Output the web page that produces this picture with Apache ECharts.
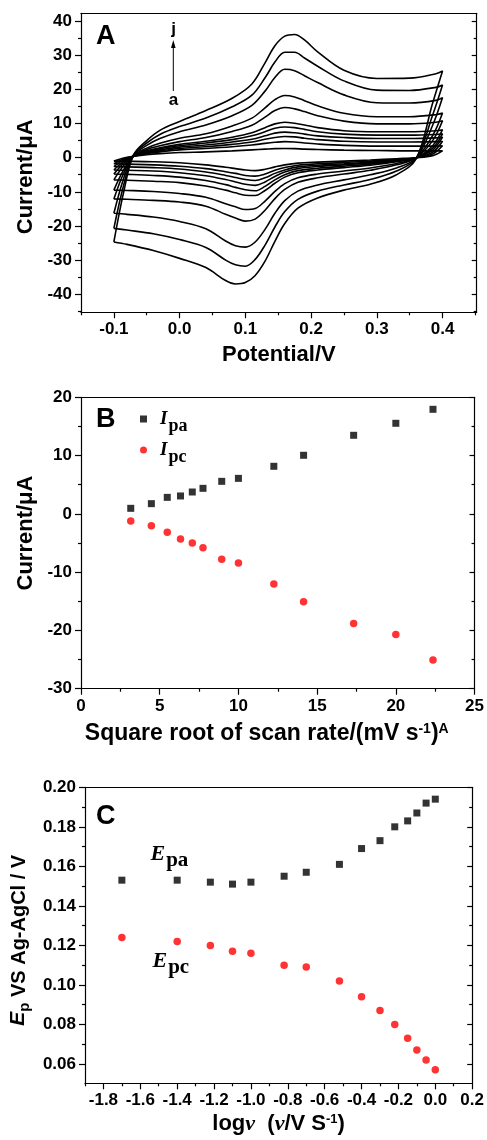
<!DOCTYPE html>
<html>
<head>
<meta charset="utf-8">
<script src="https://cdn.jsdelivr.net/npm/echarts@6/dist/echarts.min.js"></script>
<style>
  html, body { margin: 0; padding: 0; background: #fff; }
  #chart { width: 487px; height: 1140px; }
</style>
</head>
<body>
<div id="chart"></div>
<script>
// ---- panel A: cyclic voltammograms (a..j, 30 -> 500 mV/s) ----
const scanRates = [30, 40, 50, 60, 80, 100, 150, 200, 300, 400, 500];
// anodic sweep potentials and cathodic (return) sweep potentials, V
const fwdE = [-0.1, -0.085, -0.07, -0.05, -0.03, 0, 0.04, 0.08, 0.11, 0.13, 0.145, 0.16, 0.175, 0.19, 0.21, 0.25, 0.3, 0.35, 0.39, 0.4];
const revE = [0.385, 0.36, 0.33, 0.29, 0.25, 0.21, 0.18, 0.16, 0.145, 0.13, 0.115, 0.1, 0.085, 0.07, 0.04, 0, -0.04, -0.08, -0.1];

const fwd30 = [-1.0, -0.1, 0.4, 0.9, 1.2, 1.5, 1.7, 2.0, 2.3, 2.5, 2.65, 2.7, 2.65, 2.5, 2.4, 2.2, 2.1, 2.0, 2.0, 2.0];
const rev30 = [0.6, 0.0, -0.3, -0.7, -1.0, -1.3, -1.6, -2.1, -2.7, -3.4, -3.8, -3.6, -3.2, -2.8, -2.1, -1.5, -1.2, -1.05, -1.0];
const fwd40 = [-1.8, -0.4, 0.4, 1.2, 1.7, 2.3, 2.7, 3.2, 3.7, 4.2, 4.5, 4.7, 4.6, 4.3, 4.0, 3.6, 3.4, 3.4, 3.4, 3.5];
const rev40 = [1.1, 0.0, -0.5, -1.0, -1.4, -1.8, -2.2, -2.9, -3.7, -4.8, -5.4, -5.2, -4.6, -4.1, -3.2, -2.5, -2.1, -1.9, -1.8];
const fwd50 = [-2.6, -0.7, 0.4, 1.4, 2.0, 2.7, 3.2, 3.9, 4.6, 5.4, 5.9, 6.2, 6.1, 5.7, 5.3, 4.8, 4.6, 4.6, 4.7, 4.8];
const rev50 = [1.6, 0.0, -0.7, -1.3, -1.8, -2.2, -2.7, -3.6, -4.6, -5.9, -6.7, -6.4, -5.8, -5.2, -4.2, -3.3, -2.9, -2.7, -2.6];
const fwd60 = [-3.6, -1.1, 0.4, 1.6, 2.3, 3.1, 3.7, 4.6, 5.4, 6.4, 7.2, 7.5, 7.3, 6.9, 6.4, 5.9, 5.6, 5.6, 5.8, 6.0];
const rev60 = [2.2, 0.0, -0.8, -1.6, -2.1, -2.6, -3.2, -4.2, -5.5, -7.1, -8.1, -7.8, -7.1, -6.4, -5.3, -4.4, -3.9, -3.7, -3.6];
const fwd80 = [-4.8, -1.6, 0.5, 1.8, 2.6, 3.5, 4.3, 5.3, 6.4, 7.6, 8.6, 9.0, 8.8, 8.3, 7.6, 6.9, 6.6, 6.6, 6.8, 7.0];
const rev80 = [2.8, 0.0, -1.0, -1.9, -2.5, -3.1, -3.8, -5.0, -6.5, -8.4, -9.7, -9.4, -8.7, -7.9, -6.7, -5.7, -5.2, -4.9, -4.8];
const fwd100 = [-6.5, -2.3, 0.5, 2.0, 2.9, 3.9, 4.8, 6.0, 7.3, 8.8, 9.9, 10.4, 10.1, 9.6, 8.8, 7.9, 7.6, 7.6, 7.9, 8.2];
const rev100 = [3.5, 0.0, -1.2, -2.2, -2.9, -3.6, -4.4, -5.7, -7.5, -9.6, -11.1, -11.0, -10.3, -9.5, -8.3, -7.3, -6.9, -6.6, -6.5];
const fwd150 = [-9.5, -3.5, 0.5, 2.4, 3.5, 4.7, 5.9, 7.7, 9.5, 11.9, 13.8, 14.7, 14.3, 13.5, 12.3, 10.7, 9.9, 9.9, 10.4, 10.8];
const rev150 = [5.0, 0.0, -1.7, -3.0, -3.9, -4.8, -5.9, -7.6, -9.9, -12.7, -14.9, -15.2, -14.4, -13.5, -11.6, -10.5, -9.9, -9.6, -9.5];
const fwd200 = [-12.1, -4.5, 0.6, 2.8, 4.2, 5.7, 7.0, 9.3, 11.6, 14.6, 17.0, 18.2, 17.8, 16.7, 15.2, 13.0, 12.0, 12.0, 12.6, 13.1];
const rev200 = [6.5, 0.0, -2.1, -3.7, -4.8, -5.9, -7.2, -9.3, -12.0, -15.4, -18.0, -18.6, -17.7, -16.6, -14.2, -13.0, -12.5, -12.2, -12.1];
const fwd300 = [-16.3, -6.0, 0.7, 3.6, 5.6, 7.6, 9.6, 12.3, 15.3, 19.5, 23.5, 25.9, 25.5, 24.0, 22.0, 18.4, 16.1, 16.0, 16.8, 17.6];
const rev300 = [9.5, -0.1, -3.0, -5.0, -6.5, -8.0, -9.8, -12.6, -16.3, -21.0, -24.7, -26.2, -25.8, -24.4, -20.8, -18.7, -17.4, -16.6, -16.3];
const fwd400 = [-20.7, -8.0, 0.8, 4.3, 6.8, 9.1, 11.6, 14.9, 18.3, 23.4, 28.0, 30.9, 30.9, 29.2, 26.8, 22.5, 19.8, 19.7, 20.6, 21.3];
const rev400 = [12.5, -0.2, -3.9, -6.4, -8.0, -9.8, -12.2, -15.8, -20.3, -25.6, -29.8, -31.8, -31.4, -30.0, -26.3, -24.0, -22.3, -21.2, -20.7];
const fwd500 = [-24.7, -10.0, 0.8, 5.0, 8.0, 10.6, 13.8, 17.4, 21.6, 27.8, 32.8, 35.6, 36.1, 34.5, 31.0, 25.6, 23.2, 23.3, 24.6, 25.4];
const rev500 = [16.0, -0.3, -5.0, -7.8, -9.5, -11.8, -14.8, -19.3, -24.5, -30.3, -34.5, -36.6, -37.0, -36.0, -32.2, -29.5, -27.2, -25.4, -24.7];

const cvSweeps = [
  [fwd30, rev30], [fwd40, rev40], [fwd50, rev50], [fwd60, rev60], [fwd80, rev80], [fwd100, rev100],
  [fwd150, rev150], [fwd200, rev200], [fwd300, rev300], [fwd400, rev400], [fwd500, rev500]
];

const aTicksX = [-0.1, 0, 0.1, 0.2, 0.3, 0.4];
const aMinorX = [-0.15, -0.05, 0.05, 0.15, 0.25, 0.35, 0.45];
const aTicksY = [-40, -30, -20, -10, 0, 10, 20, 30, 40];
const aMinorY = [-45, -35, -25, -15, -5, 5, 15, 25, 35];

// ---- panel B: peak current vs square root of scan rate ----
const sqrtRate = [3.16, 4.47, 5.48, 6.32, 7.07, 7.75, 8.94, 10.0, 12.25, 14.14, 17.32, 20.0, 22.36];
const ipa = [0.95, 1.75, 2.83, 3.07, 3.75, 4.38, 5.58, 6.09, 8.16, 10.05, 13.48, 15.54, 17.94];
const ipc = [-1.22, -2.03, -3.17, -4.31, -5.0, -5.8, -7.8, -8.43, -12.03, -15.07, -18.8, -20.68, -25.08];

const bTicksX = [0, 5, 10, 15, 20, 25];
const bMinorX = [2.5, 7.5, 12.5, 17.5, 22.5];
const bTicksY = [-30, -20, -10, 0, 10, 20];
const bMinorY = [-25, -15, -5, 5, 15];

// ---- panel C: peak potential vs log scan rate ----
const logRate = [-1.70, -1.40, -1.22, -1.10, -1.00, -0.82, -0.70, -0.52, -0.40, -0.30, -0.22, -0.15, -0.10, -0.05, 0.0];
const epa = [0.153, 0.153, 0.152, 0.151, 0.152, 0.155, 0.157, 0.161, 0.169, 0.173, 0.180, 0.183, 0.187, 0.192, 0.194];
const epc = [0.124, 0.122, 0.120, 0.117, 0.116, 0.110, 0.109, 0.102, 0.094, 0.087, 0.080, 0.073, 0.067, 0.062, 0.057];

const cTicksX = [-1.8, -1.6, -1.4, -1.2, -1.0, -0.8, -0.6, -0.4, -0.2, 0.0, 0.2];
const cMinorX = [-1.9, -1.7, -1.5, -1.3, -1.1, -0.9, -0.7, -0.5, -0.3, -0.1, 0.1];
const cTicksY = [0.06, 0.08, 0.10, 0.12, 0.14, 0.16, 0.18, 0.20];
const cMinorY = [0.05, 0.07, 0.09, 0.11, 0.13, 0.15, 0.17, 0.19];

const SANS = '"Liberation Sans", Arial, Helvetica, sans-serif';
const SERIF = '"Liberation Serif", "Times New Roman", serif';
const LINE = { color: '#000', width: 1.2 };
const TICK_LABEL = { color: '#000', fontSize: 17, fontWeight: 'bold', fontFamily: SANS };
const NAME = { color: '#000', fontSize: 22, fontWeight: 'bold', fontFamily: SANS };

function xAxes(grid, min, max, majors, minors, fmt, name, gap, nameStyle) {
  return [
    { type: 'value', gridIndex: grid, min: min, max: max, position: 'bottom',
      axisLine: { show: true, onZero: false, lineStyle: LINE },
      axisTick: { show: true, inside: false, length: 6, customValues: majors, lineStyle: LINE },
      axisLabel: Object.assign({ show: true, customValues: majors, formatter: fmt, margin: 9 }, TICK_LABEL),
      splitLine: { show: false },
      name: name, nameLocation: 'middle', nameGap: gap, nameTextStyle: nameStyle },
    { type: 'value', gridIndex: grid, min: min, max: max, position: 'bottom',
      axisLine: { show: false, onZero: false },
      axisTick: { show: true, inside: false, length: 3, customValues: minors, lineStyle: LINE },
      axisLabel: { show: false }, splitLine: { show: false } },
    { type: 'value', gridIndex: grid, min: min, max: max, position: 'top',
      axisLine: { show: true, onZero: false, lineStyle: LINE },
      axisTick: { show: false }, axisLabel: { show: false }, splitLine: { show: false } }
  ];
}

function yAxes(grid, min, max, majors, minors, fmt, name, gap, nameStyle) {
  return [
    { type: 'value', gridIndex: grid, min: min, max: max, position: 'left',
      axisLine: { show: true, onZero: false, lineStyle: LINE },
      axisTick: { show: true, inside: false, length: 6, customValues: majors, lineStyle: LINE },
      axisLabel: Object.assign({ show: true, customValues: majors, formatter: fmt, margin: 9 }, TICK_LABEL),
      splitLine: { show: false },
      name: name, nameLocation: 'middle', nameGap: gap, nameTextStyle: nameStyle },
    { type: 'value', gridIndex: grid, min: min, max: max, position: 'left',
      axisLine: { show: false, onZero: false },
      axisTick: { show: true, inside: false, length: 3, customValues: minors, lineStyle: LINE },
      axisLabel: { show: false }, splitLine: { show: false } },
    { type: 'value', gridIndex: grid, min: min, max: max, position: 'right',
      axisLine: { show: true, onZero: false, lineStyle: LINE },
      axisTick: { show: true, inside: true, length: 5, customValues: majors, lineStyle: LINE },
      axisLabel: { show: false }, splitLine: { show: false } },
    { type: 'value', gridIndex: grid, min: min, max: max, position: 'right',
      axisLine: { show: false, onZero: false },
      axisTick: { show: true, inside: true, length: 3, customValues: minors, lineStyle: LINE },
      axisLabel: { show: false }, splitLine: { show: false } }
  ];
}

const fmt1 = v => v.toFixed(1);
const fmt0 = v => v.toFixed(0);
const fmt2 = v => v.toFixed(2);

const xAxis = [].concat(
  xAxes(0, -0.15, 0.452, aTicksX, aMinorX, fmt1, 'Potential/V', 32, NAME),
  xAxes(1, 0, 25, bTicksX, bMinorX, fmt0, 'Square root of scan rate/(mV s{sup|-1}){sup|A}', 33,
    Object.assign({}, NAME, { fontSize: 23, padding: [0, 22, 0, 0],
      rich: { sup: { fontSize: 14, fontWeight: 'bold', fontFamily: SANS, verticalAlign: 'top', lineHeight: 12 } } })),
  xAxes(2, -1.9, 0.2, cTicksX, cMinorX, fmt1, 'log{v|ν}  ({v|ν}/V S{sup|-1})', 30,
    Object.assign({}, NAME, { rich: {
      v: { fontSize: 22, fontStyle: 'italic', fontFamily: SERIF, fontWeight: 'bold' },
      sup: { fontSize: 13, fontWeight: 'bold', fontFamily: SANS, verticalAlign: 'top', lineHeight: 12 } } }))
);

const yAxis = [].concat(
  yAxes(0, -45.3, 42.3, aTicksY, aMinorY, fmt0, 'Current/μA', 44, Object.assign({ padding: [0, 28, 0, 0] }, NAME)),
  yAxes(1, -30, 20, bTicksY, bMinorY, fmt0, 'Current/μA', 41, Object.assign({ padding: [0, 0, 0, 20] }, NAME)),
  yAxes(2, 0.0502, 0.2, cTicksY, cMinorY, fmt2, '{e|E}{p|p} VS Ag-AgCl / V', 52,
    Object.assign({}, NAME, { fontSize: 20, padding: [0, 10, 0, 0], rich: {
      e: { fontSize: 21, fontStyle: 'italic', fontWeight: 'bold', fontFamily: SANS, verticalAlign: 'top', lineHeight: 22 },
      p: { fontSize: 15, fontWeight: 'bold', fontFamily: SANS, verticalAlign: 'top', lineHeight: 14, padding: [9, 0, 0, 0] } } }))
);

const cvSeries = cvSweeps.map((sw, k) => ({
  name: 'CV ' + scanRates[k] + ' mV/s',
  type: 'line', xAxisIndex: 0, yAxisIndex: 0,
  data: fwdE.map((e, i) => [e, sw[0][i]]).concat(revE.map((e, i) => [e, sw[1][i]])),
  showSymbol: false, smooth: 0.35, silent: true,
  lineStyle: { color: '#000', width: 1.6 }
}));

const RICH_I = {
  i: { fontSize: 19, fontStyle: 'italic', fontWeight: 'bold', fontFamily: SERIF, color: '#000', verticalAlign: 'top', lineHeight: 18, padding: [0, 0, 0, 8] },
  s: { fontSize: 18, fontWeight: 'bold', fontFamily: SERIF, color: '#000', verticalAlign: 'top', lineHeight: 16, padding: [7, 0, 0, 1] }
};
const RICH_E = {
  e: { fontSize: 22, fontStyle: 'italic', fontWeight: 'bold', fontFamily: SERIF, fill: '#000', verticalAlign: 'top', lineHeight: 22 },
  s: { fontSize: 21, fontWeight: 'bold', fontFamily: SERIF, fill: '#000', verticalAlign: 'top', lineHeight: 20, padding: [7, 0, 0, 1] }
};

const chart = echarts.init(document.getElementById('chart'), null, { renderer: 'canvas' });
chart.setOption({
  animation: false,
  backgroundColor: '#fff',
  grid: [
    { left: 81, right: 10.3, top: 13.3, height: 299 },
    { left: 81, right: 12, top: 397.3, height: 291.4 },
    { left: 81, right: 10.3, top: 787.3, height: 296 }
  ],
  xAxis: xAxis,
  yAxis: yAxis,
  legend: {
    orient: 'vertical', left: 135, top: 405, itemWidth: 7, itemHeight: 7, itemGap: 6,
    data: [{ name: 'Ipa', icon: 'rect' }, { name: 'Ipc', icon: 'circle' }],
    formatter: n => '{i|I}{s|' + n.slice(1) + '}',
    textStyle: { rich: RICH_I },
    selectedMode: false
  },
  graphic: [
    { type: 'text', x: 96, y: 37, style: { text: 'A', font: 'bold 27px ' + SANS, fill: '#000', verticalAlign: 'middle' } },
    { type: 'text', x: 96, y: 420, style: { text: 'B', font: 'bold 27px ' + SANS, fill: '#000', verticalAlign: 'middle' } },
    { type: 'text', x: 96, y: 817, style: { text: 'C', font: 'bold 27px ' + SANS, fill: '#000', verticalAlign: 'middle' } },
    { type: 'text', x: 173.5, y: 29.5, style: { text: 'j', font: 'bold 17px ' + SANS, fill: '#000', align: 'center', verticalAlign: 'middle' } },
    { type: 'text', x: 173.5, y: 100.5, style: { text: 'a', font: 'bold 17px ' + SANS, fill: '#000', align: 'center', verticalAlign: 'middle' } },
    { type: 'line', shape: { x1: 173.3, y1: 91, x2: 173.3, y2: 46 }, style: { stroke: '#000', lineWidth: 1 } },
    { type: 'polygon', shape: { points: [[173.3, 40], [171, 48], [175.6, 48]] }, style: { fill: '#000' } },
    { type: 'text', x: 150.5, y: 843.5, style: { text: '{e|E}{s|pa}', rich: RICH_E } },
    { type: 'text', x: 152.5, y: 950.5, style: { text: '{e|E}{s|pc}', rich: RICH_E } }
  ],
  series: cvSeries.concat([
    { name: 'Ipa', type: 'scatter', xAxisIndex: 3, yAxisIndex: 4, symbol: 'rect', symbolSize: 7,
      itemStyle: { color: '#000' }, data: sqrtRate.map((x, i) => [x, ipa[i]]) },
    { name: 'Ipc', type: 'scatter', xAxisIndex: 3, yAxisIndex: 4, symbol: 'circle', symbolSize: 7.5,
      itemStyle: { color: '#ff0000' }, data: sqrtRate.map((x, i) => [x, ipc[i]]) },
    { name: 'Epa', type: 'scatter', xAxisIndex: 6, yAxisIndex: 8, symbol: 'rect', symbolSize: 7,
      itemStyle: { color: '#000' }, data: logRate.map((x, i) => [x, epa[i]]) },
    { name: 'Epc', type: 'scatter', xAxisIndex: 6, yAxisIndex: 8, symbol: 'circle', symbolSize: 7.5,
      itemStyle: { color: '#ff0000' }, data: logRate.map((x, i) => [x, epc[i]]) }
  ])
});
</script>
</body>
</html>
